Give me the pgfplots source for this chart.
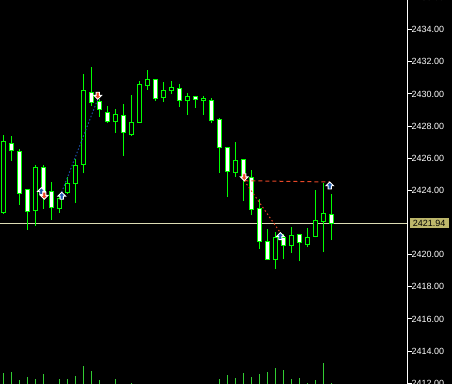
\documentclass[border=0pt]{standalone}
\usepackage{fontspec}
\setmainfont{Liberation Sans}
\usepackage{pgfplots}
\usepackage{pgfplotstable}
\pgfplotsset{compat=1.18}

\definecolor{candle}{RGB}{0,255,0}
\definecolor{volgreen}{RGB}{50,205,50}
\definecolor{buyblue}{RGB}{30,90,175}
\definecolor{buyline}{RGB}{25,75,160}
\definecolor{sellred}{RGB}{232,72,40}
\definecolor{bidline}{RGB}{220,220,180}
\definecolor{bidbox}{RGB}{189,183,107}

% trade arrows: the tip sits on the deal price
\pgfdeclareplotmark{buyarrow}{%
  \pgfpathmoveto{\pgfqpoint{0bp}{0bp}}%
  \pgfpathlineto{\pgfqpoint{3.8bp}{-3.8bp}}%
  \pgfpathlineto{\pgfqpoint{1.6bp}{-3.8bp}}%
  \pgfpathlineto{\pgfqpoint{1.6bp}{-7bp}}%
  \pgfpathlineto{\pgfqpoint{-1.6bp}{-7bp}}%
  \pgfpathlineto{\pgfqpoint{-1.6bp}{-3.8bp}}%
  \pgfpathlineto{\pgfqpoint{-3.8bp}{-3.8bp}}%
  \pgfpathclose
  \pgfusepathqfillstroke}
\pgfdeclareplotmark{sellarrow}{%
  \pgfpathmoveto{\pgfqpoint{0bp}{0bp}}%
  \pgfpathlineto{\pgfqpoint{3.8bp}{3.8bp}}%
  \pgfpathlineto{\pgfqpoint{1.6bp}{3.8bp}}%
  \pgfpathlineto{\pgfqpoint{1.6bp}{7bp}}%
  \pgfpathlineto{\pgfqpoint{-1.6bp}{7bp}}%
  \pgfpathlineto{\pgfqpoint{-1.6bp}{3.8bp}}%
  \pgfpathlineto{\pgfqpoint{-3.8bp}{3.8bp}}%
  \pgfpathclose
  \pgfusepathqfillstroke}

% bar index, open, high, low, close
\pgfplotstableread{
i o h l c
0 2422.61 2427.45 2422.53 2427.07
1 2426.93 2427.39 2425.85 2426.47
2 2426.43 2426.56 2423.09 2423.82
3 2424.07 2424.10 2421.54 2422.67
4 2422.74 2425.56 2421.80 2425.44
5 2425.44 2425.56 2422.86 2423.92
6 2423.94 2424.52 2422.16 2422.92
7 2422.86 2423.65 2422.61 2423.47
8 2423.86 2424.82 2423.78 2424.44
9 2424.44 2425.97 2423.23 2425.56
10 2425.62 2431.24 2425.06 2430.19
11 2430.06 2431.70 2429.27 2429.48
12 2429.54 2429.67 2428.55 2429.05
13 2428.86 2429.27 2428.21 2428.28
14 2428.28 2429.07 2427.59 2428.69
15 2428.67 2429.38 2426.16 2427.62
16 2427.47 2429.94 2427.39 2428.24
17 2428.24 2430.81 2428.22 2430.60
18 2430.52 2431.49 2430.25 2430.91
19 2430.91 2430.93 2429.58 2429.71
20 2429.79 2430.75 2429.52 2430.23
21 2430.20 2430.81 2430.02 2430.42
22 2430.35 2430.62 2429.19 2429.61
23 2429.58 2430.04 2428.69 2429.86
24 2429.86 2429.88 2429.15 2429.67
25 2429.59 2429.87 2428.69 2429.69
26 2429.61 2429.73 2428.18 2428.34
27 2428.38 2428.51 2425.10 2426.68
28 2426.68 2426.70 2423.61 2425.19
29 2425.13 2427.01 2424.82 2425.87
30 2425.94 2425.96 2423.36 2424.77
31 2424.82 2425.27 2422.49 2422.82
32 2422.84 2423.47 2420.37 2420.83
33 2420.83 2421.58 2419.70 2419.71
34 2419.71 2421.41 2419.13 2421.08
35 2421.08 2421.29 2419.71 2420.58
36 2420.58 2421.70 2420.12 2421.21
37 2421.27 2421.29 2419.59 2420.77
38 2420.65 2421.64 2420.46 2421.08
39 2421.14 2424.01 2421.08 2422.14
40 2422.08 2424.44 2420.15 2422.53
41 2422.51 2423.78 2420.90 2421.94
}\candles

% tick volume per bar
\pgfplotstableread{
i v
0 11.3
1 12
2 4
3 7
4 5
5 10
7 5
8 5
9 8
10 18
11 13
12 4
14 5
16 1
27 5
28 9
29 6
30 11
31 7
32 10
33 12
34 16
35 14
36 5
37 6
38 1
39 4
40 21
41 1
}\volumes

\pgfplotstableread{
x y
4.75 2424.17
7.3 2423.88
34.625 2421.37
40.8 2424.52
}\buys

\pgfplotstableread{
x y
5.125 2423.45
11.8 2429.67
30.125 2424.60
}\sells

\pgfplotsset{
  candle part/.style={draw=none, mark=none, forget plot,
    error bars/y dir=plus, error bars/y explicit, error bars/error mark=none},
}

\begin{document}
\begin{tikzpicture}
\fill[black] (0,0) rectangle (452bp,384bp);

% volume histogram along the bottom
\begin{axis}[
  at={(0,0)}, anchor=south west,
  scale only axis, width=407bp, height=387.29bp,
  xmin=-0.4125, xmax=50.4625, ymin=0, ymax=387.29,
  axis lines=none, ticks=none,
]
\addplot[volgreen, line width=1bp, ycomb, mark=none] table[x=i, y=v] {\volumes};
\end{axis}

\begin{axis}[
  at={(0,0)}, anchor=south west,
  scale only axis, width=407bp, height=387.29bp,
  xmin=-0.4125, xmax=50.4625, ymin=2411.95, ymax=2436.05,
  clip=false,
  axis x line=none,
  axis y line*=right,
  y axis line style={white, line width=1bp, -},
  ytick={2412,2414,2416,2418,2420,2424,2426,2428,2430,2432,2434,2436},
  tick align=outside,
  major tick length=4.5bp,
  ytick style={white, line width=1bp},
  yticklabel style={text=white, font=\fontsize{9}{10}\selectfont,
    anchor=west, inner sep=0pt,
    /pgf/number format/fixed, /pgf/number format/fixed zerofill,
    /pgf/number format/precision=2, /pgf/number format/1000 sep={},
    /pgf/number format/assume math mode=true},
]
% bid line
\addplot[bidline, line width=1bp, mark=none] coordinates {(-0.4125,2421.94) (50.4625,2421.94)};

% wicks: low to high
\addplot[candle part, error bars/error bar style={draw=candle, line width=1bp, solid}]
  table[x=i, y=l, y error plus expr=\thisrow{h}-\thisrow{l}] {\candles};
% body outlines
\addplot[candle part, error bars/error bar style={draw=candle, line width=5bp, solid,
    shorten <=-0.5bp, shorten >=-0.5bp}]
  table[x=i, y expr={min(\thisrow{o},\thisrow{c})},
        y error plus expr={abs(\thisrow{c}-\thisrow{o})}] {\candles};
% falling bars: white body
\addplot[candle part, restrict expr to domain={\thisrow{c}-\thisrow{o}}{-1000:0},
    error bars/error bar style={draw=white, line width=3bp, solid,
    shorten <=0.5bp, shorten >=0.5bp}]
  table[x=i, y=c, y error plus expr={\thisrow{o}-\thisrow{c}}] {\candles};
% rising bars: black body
\addplot[candle part, restrict expr to domain={\thisrow{c}-\thisrow{o}}{0:1000},
    error bars/error bar style={draw=black, line width=3bp, solid,
    shorten <=0.5bp, shorten >=0.5bp}]
  table[x=i, y=o, y error plus expr={\thisrow{c}-\thisrow{o}}] {\candles};

% closed-trade lines
\addplot[buyline, line width=1bp, dash pattern=on 1.5bp off 2bp, mark=none]
  coordinates {(7.3,2423.88) (11.8,2429.67)};
\addplot[sellred, line width=1bp, dash pattern=on 1.5bp off 2.5bp, mark=none]
  coordinates {(30.125,2424.60) (34.625,2421.37)};
\addplot[sellred, line width=1bp, dash pattern=on 4bp off 3bp, mark=none]
  coordinates {(30.125,2424.60) (40.8,2424.52)};

% deal arrows
\addplot[only marks, mark=buyarrow, mark options={draw=white, fill=buyblue, line width=0.9bp, solid}]
  table[x=x, y=y] {\buys};
\addplot[only marks, mark=sellarrow, mark options={draw=white, fill=sellred, line width=0.9bp, solid}]
  table[x=x, y=y] {\sells};

% current price tag
\node[fill=bidbox, text=black, anchor=west, inner xsep=3.4bp, inner ysep=0pt,
  minimum height=10bp, font=\fontsize{9}{10}\selectfont, xshift=2.3bp]
  at (axis cs:50.4625,2421.94) {2421.94};
\end{axis}
\pgfresetboundingbox
\useasboundingbox (0,0) rectangle (452bp,384bp);
\end{tikzpicture}
\end{document}
